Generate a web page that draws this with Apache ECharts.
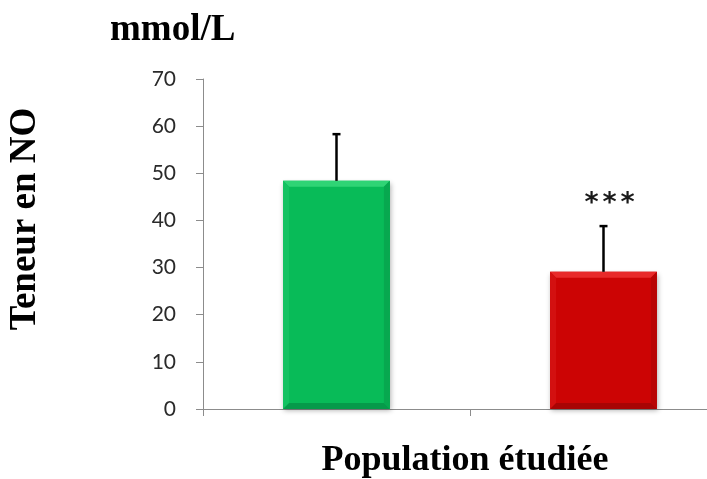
<!DOCTYPE html>
<html>
<head>
<meta charset="utf-8">
<script src="https://cdn.jsdelivr.net/npm/echarts@6/dist/echarts.min.js"></script>
<style>
  html, body { margin: 0; padding: 0; background: #fff; }
  #chart { width: 707px; height: 479px; }
</style>
</head>
<body>
<div id="chart"></div>
<script>
// Groups compared and their mean NO content (mmol/L) with the upper error
const categories = ['Témoins', 'Patients'];
const means = [48.4, 29.1];
const errors = [9.9, 9.7];
const significance = [0, 3]; // number of significance stars above each bar
const yTicks = { min: 0, max: 70, interval: 10 };

// Bevel palette per bar: face, top edge, left edge, right edge, bottom edge
const palettes = [
  { face: '#08BB58', top: '#2FD475', left: '#14C262', right: '#07A84F', bottom: '#069A4A' },
  { face: '#CC0404', top: '#E82A2A', left: '#D31010', right: '#B80404', bottom: '#A80404' }
];

const chart = echarts.init(document.getElementById('chart'));

function renderBar(params, api) {
  const idx = api.value(0);
  const top = api.coord([idx, api.value(1)]);
  const base = api.coord([idx, 0]);
  const w = api.size([1, 0])[0] * 0.4;
  const x0 = top[0] - w / 2, x1 = top[0] + w / 2;
  const y0 = top[1], y1 = base[1];
  const b = 6;
  const p = palettes[idx];
  return {
    type: 'group',
    children: [
      { type: 'rect', shape: { x: x0, y: y0, width: w, height: y1 - y0 },
        style: { fill: p.face, shadowBlur: 5, shadowOffsetY: 2, shadowOffsetX: 1, shadowColor: 'rgba(0,0,0,0.3)' } },
      { type: 'polygon', shape: { points: [[x0, y0], [x1, y0], [x1 - b, y0 + b], [x0 + b, y0 + b]] },
        style: { fill: p.top } },
      { type: 'polygon', shape: { points: [[x0, y0], [x0 + b, y0 + b], [x0 + b, y1 - b], [x0, y1]] },
        style: { fill: p.left } },
      { type: 'polygon', shape: { points: [[x1, y0], [x1 - b, y0 + b], [x1 - b, y1 - b], [x1, y1]] },
        style: { fill: p.right } },
      { type: 'polygon', shape: { points: [[x0, y1], [x1, y1], [x1 - b, y1 - b], [x0 + b, y1 - b]] },
        style: { fill: p.bottom } }
    ]
  };
}

function renderError(params, api) {
  const idx = api.value(0);
  const from = api.coord([idx, api.value(1)]);
  const to = api.coord([idx, api.value(2)]);
  const cap = 4;
  const children = [
    { type: 'line', shape: { x1: from[0], y1: from[1], x2: to[0], y2: to[1] },
      style: { stroke: '#000', lineWidth: 2.5 } },
    { type: 'line', shape: { x1: to[0] - cap, y1: to[1], x2: to[0] + cap, y2: to[1] },
      style: { stroke: '#000', lineWidth: 2.5 } }
  ];
  const stars = significance[idx];
  const step = 18;
  const cx = to[0] + 6;
  for (let k = 0; k < stars; k++) {
    children.push({ type: 'text', x: cx + (k - (stars - 1) / 2) * step, y: to[1] - 9,
      style: { text: '*', fill: '#1a1a1a', font: 'bold 27px "DejaVu Sans"', align: 'center', verticalAlign: 'bottom' } });
  }
  return { type: 'group', children };
}

chart.setOption({
  animation: false,
  backgroundColor: '#fff',
  // the category band continues past the right edge of the canvas
  grid: { left: 203, top: 79, width: 534, height: 330, containLabel: false, outerBoundsMode: 'none' },
  xAxis: {
    type: 'category',
    data: categories,
    boundaryGap: true,
    axisLine: { lineStyle: { color: '#8C8C8C', width: 1 } },
    axisTick: { show: true, length: 7, interval: 0, lineStyle: { color: '#8C8C8C' } },
    axisLabel: { show: false },
    splitLine: { show: false }
  },
  yAxis: {
    type: 'value',
    min: yTicks.min, max: yTicks.max, interval: yTicks.interval,
    axisLine: { show: true, lineStyle: { color: '#8C8C8C', width: 1 } },
    axisTick: { show: true, length: 7, lineStyle: { color: '#8C8C8C' } },
    axisLabel: { color: '#2a2a2a', fontFamily: 'Lato', fontSize: 21, margin: 27 },
    splitLine: { show: false }
  },
  graphic: [
    { type: 'text', left: 110, top: 12,
      style: { text: 'mmol/L', fill: '#000', font: 'bold 37px "Liberation Serif"' } },
    { type: 'text', x: 25, y: 219, rotation: Math.PI / 2,
      style: { text: 'Teneur en NO', fill: '#000', font: 'bold 37px "Liberation Serif"', align: 'center', verticalAlign: 'middle' } },
    { type: 'text', x: 465, y: 461,
      style: { text: 'Population étudiée', fill: '#000', font: 'bold 36px "Liberation Serif"', align: 'center', verticalAlign: 'middle' } }
  ],
  series: [
    {
      type: 'custom',
      renderItem: renderBar,
      data: means.map((m, i) => [i, m]),
      encode: { x: 0, y: 1 },
      z: 2
    },
    {
      type: 'custom',
      renderItem: renderError,
      data: means.map((m, i) => [i, m, m + errors[i]]),
      encode: { x: 0, y: [1, 2] },
      z: 3
    }
  ]
});
</script>
</body>
</html>
